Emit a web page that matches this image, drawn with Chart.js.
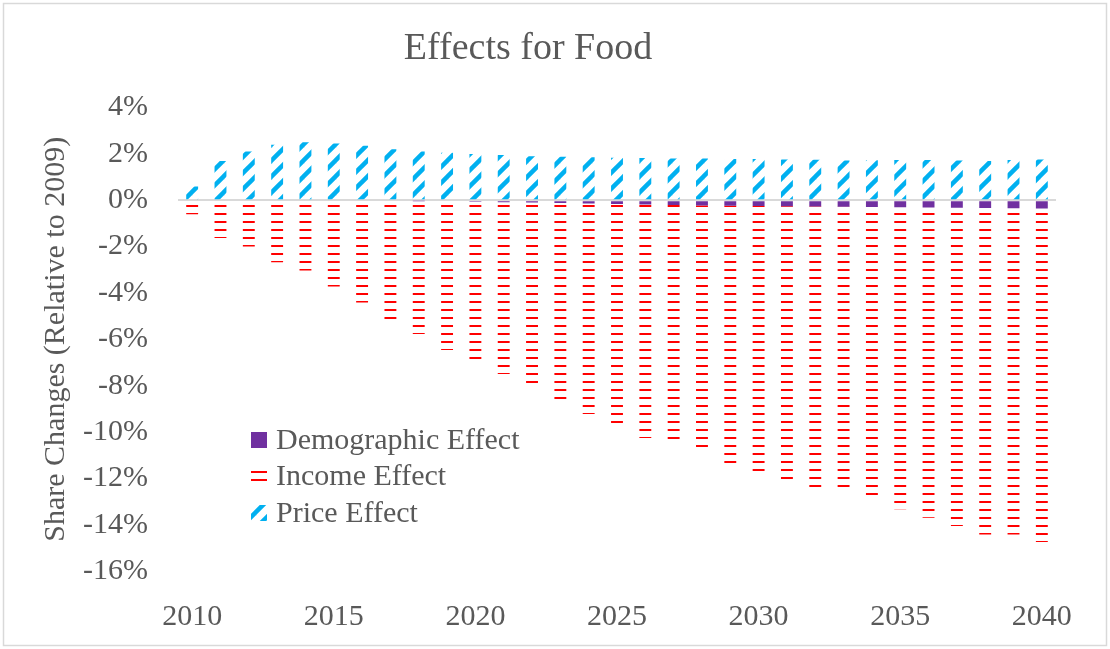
<!DOCTYPE html>
<html>
<head>
<meta charset="utf-8">
<title>Effects for Food</title>
<script src="https://cdn.jsdelivr.net/npm/chart.js@4.4.0/dist/chart.umd.min.js"></script>
<style>
  html, body { margin: 0; padding: 0; background: #fff; }
  #wrap { width: 1110px; height: 649px; }
</style>
</head>
<body>
<div id="wrap"><canvas id="chartFood" width="1110" height="649"></canvas></div>
<script>
// years 2010..2040
const years = [2010, 2011, 2012, 2013, 2014, 2015, 2016, 2017, 2018, 2019,
               2020, 2021, 2022, 2023, 2024, 2025, 2026, 2027, 2028, 2029,
               2030, 2031, 2032, 2033, 2034, 2035, 2036, 2037, 2038, 2039, 2040];

// share changes in percent
const demographic = [0, 0, 0, 0, 0, 0, 0, 0, -0.02, -0.04,
                     -0.06, -0.08, -0.1, -0.12, -0.14, -0.16, -0.18, -0.2, -0.22, -0.24,
                     -0.25, -0.26, -0.27, -0.28, -0.29, -0.3, -0.31, -0.32, -0.33, -0.34, -0.35];
const income = [-0.6, -1.63, -2.0, -2.67, -3.03, -3.72, -4.41, -5.12, -5.75, -6.42,
                -7.0, -7.42, -8.0, -8.71, -9.08, -9.71, -10.08, -10.36, -10.68, -11.1,
                -11.69, -11.9, -12.23, -12.27, -12.56, -13.04, -13.39, -13.74, -14.09, -14.08, -14.4];
const price = [0.6, 1.7, 2.1, 2.4, 2.5, 2.45, 2.35, 2.2, 2.1, 2.05,
               2.0, 1.95, 1.9, 1.88, 1.86, 1.84, 1.82, 1.8, 1.8, 1.78,
               1.78, 1.76, 1.75, 1.72, 1.73, 1.74, 1.74, 1.72, 1.7, 1.74, 1.76];

const yTicks = [-16, -14, -12, -10, -8, -6, -4, -2, 0, 2, 4];

const FONT = '"Liberation Serif", "Times New Roman", serif';
const GREY = '#595959';

// --- fill patterns ---
function dashPattern(color) {
    const c = document.createElement('canvas');
    c.width = 8; c.height = 8;
    const g = c.getContext('2d');
    g.fillStyle = color;
    g.fillRect(0, 5, 8, 2);
    return g.createPattern(c, 'repeat');
}

function diagPattern(color) {
    const s = 16;
    const c = document.createElement('canvas');
    c.width = s; c.height = s;
    const g = c.getContext('2d');
    g.strokeStyle = color;
    g.lineWidth = 4.5;
    g.lineCap = 'square';
    [-s, 0, s].forEach(off => {
        g.beginPath();
        g.moveTo(off - 2, s + 2);
        g.lineTo(off + s + 2, -2);
        g.stroke();
    });
    return g.createPattern(c, 'repeat');
}

const incomeFill = dashPattern('#FF0000');
const priceFill = diagPattern('#00B0F0');

// frame + white background
const framePlugin = {
    id: 'frame',
    beforeDraw(chart) {
        const ctx = chart.ctx;
        ctx.save();
        ctx.fillStyle = '#fff';
        ctx.fillRect(0, 0, chart.width, chart.height);
        ctx.strokeStyle = '#D9D9D9';
        ctx.lineWidth = 1.5;
        ctx.strokeRect(3.5, 3.5, chart.width - 7, chart.height - 7);
        ctx.restore();
    }
};

// legend box sitting inside the plot, lower left
const innerLegend = {
    id: 'innerLegend',
    afterDraw(chart) {
        const ctx = chart.ctx;
        const x0 = 251, rows = [440, 476, 513];
        ctx.save();
        ctx.font = '30px ' + FONT;
        ctx.textBaseline = 'middle';
        chart.data.datasets.forEach((ds, i) => {
            const y = rows[i];
            if (ds.backgroundColor === incomeFill) {
                // two dashes, like the bar fill
                ctx.fillStyle = '#FF0000';
                ctx.fillRect(x0, y - 5, 16, 2);
                ctx.fillRect(x0, y + 3, 16, 2);
            } else {
                ctx.fillStyle = ds.backgroundColor;
                ctx.fillRect(x0, y - 8, 16, 16);
            }
            ctx.fillStyle = GREY;
            ctx.fillText(ds.label, x0 + 25, y + 1);
        });
        ctx.restore();
    }
};

new Chart(document.getElementById('chartFood'), {
    type: 'bar',
    data: {
        labels: years,
        datasets: [
            { label: 'Demographic Effect', data: demographic, backgroundColor: '#7030A0' },
            { label: 'Income Effect', data: income, backgroundColor: incomeFill },
            { label: 'Price Effect', data: price, backgroundColor: priceFill }
        ]
    },
    options: {
        responsive: false,
        animation: false,
        layout: { padding: { top: 0, right: 54, bottom: 14, left: 0 } },
        datasets: { bar: { categoryPercentage: 1, barPercentage: 0.42, borderWidth: 0 } },
        plugins: {
            legend: { display: false },
            tooltip: { enabled: false },
            title: {
                display: true,
                text: 'Effects for Food',
                color: GREY,
                font: { family: FONT, size: 38, weight: 'normal', lineHeight: 1.2 },
                padding: { top: 26, bottom: 36 }
            }
        },
        scales: {
            x: {
                stacked: true,
                border: { display: false },
                grid: { display: false, drawTicks: false },
                afterFit(scale) { scale.height = 64; },
                ticks: {
                    autoSkip: false,
                    maxRotation: 0,
                    padding: 28,
                    color: GREY,
                    font: { family: FONT, size: 30 },
                    callback(v) {
                        const yr = this.getLabelForValue(v);
                        return yr % 5 === 0 ? String(yr) : '';
                    }
                }
            },
            y: {
                stacked: true,
                min: -16,
                max: 4,
                z: 1,
                afterBuildTicks(scale) {
                    scale.ticks = yTicks.map(v => ({ value: v }));
                },
                afterFit(scale) { scale.width = 178; },
                border: { display: false },
                grid: {
                    drawTicks: false,
                    lineWidth: 2,
                    color: c => (c.tick && c.tick.value === 0 ? '#D9D9D9' : 'rgba(0,0,0,0)')
                },
                ticks: {
                    padding: 30,
                    color: GREY,
                    font: { family: FONT, size: 30 },
                    callback: v => v + '%'
                },
                title: {
                    display: true,
                    text: 'Share Changes (Relative to 2009)',
                    color: GREY,
                    font: { family: FONT, size: 30, weight: 'normal', lineHeight: 1.2 },
                    padding: { top: 38, bottom: 0 }
                }
            }
        }
    },
    plugins: [framePlugin, innerLegend]
});
</script>
</body>
</html>
